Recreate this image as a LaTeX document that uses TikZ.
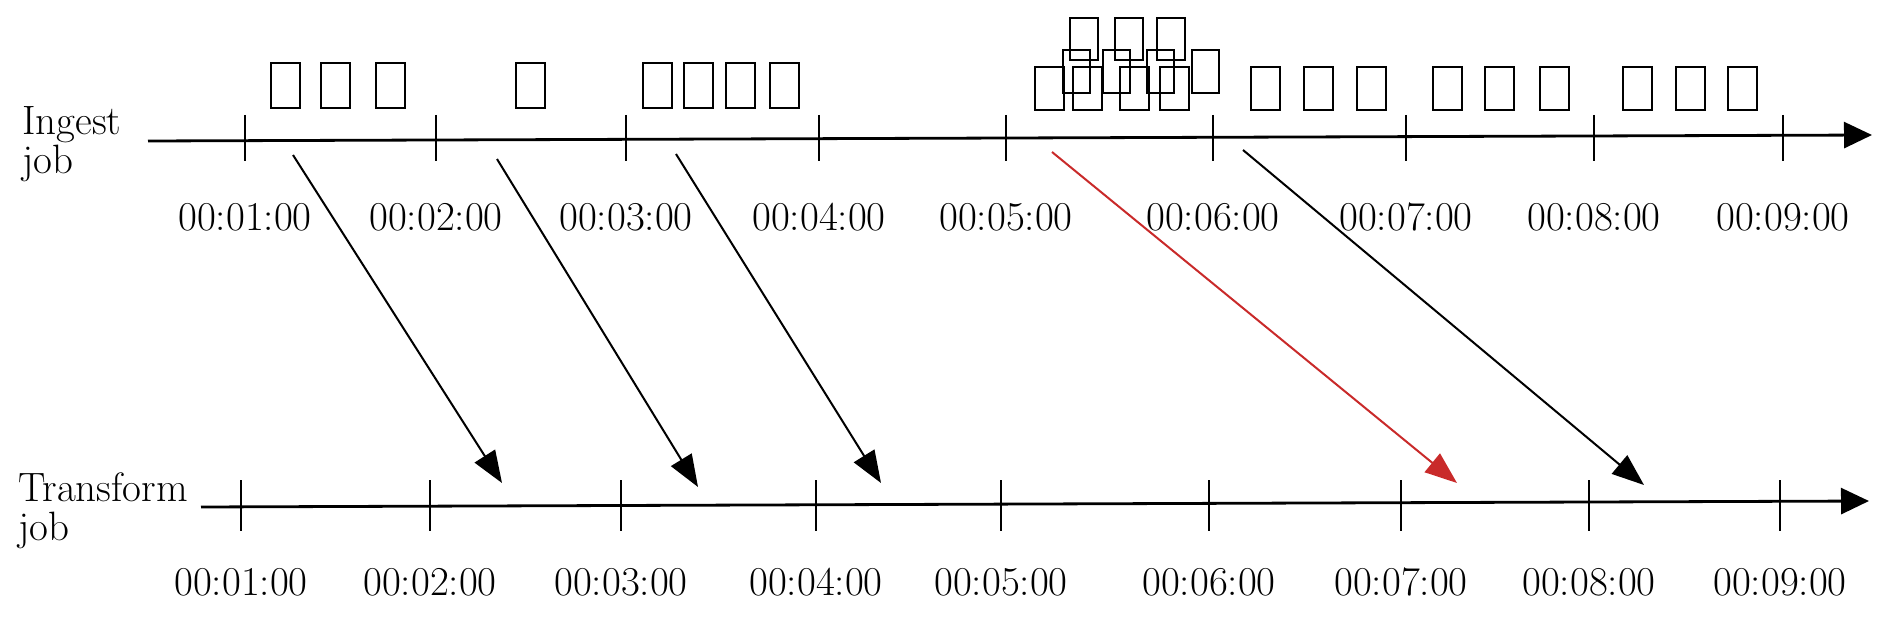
\documentclass[tikz,border=0pt]{standalone}
\usetikzlibrary{arrows.meta,positioning}
\definecolor{sketchred}{HTML}{C92A2A}

\tikzset{
	timeaxis/.style={line width=1.4pt,-{Triangle[length=14pt,width=13pt]}},
	tickmark/.style={line width=0.8pt},
	timelabel/.style={font=\fontsize{20.5}{23}\selectfont},
	joblabel/.style={font=\fontsize{20.5}{19.5}\selectfont, align=left, anchor=west, inner sep=0pt},
	batch/.style={line width=1.3pt},
	handoff/.style={line width=1pt,-{Triangle[length=16pt,width=12pt]}},
}

\begin{document}
\begin{tikzpicture}[x=0.5pt,y=-0.5pt]
		\useasboundingbox (0,0) rectangle (1892,626);
		
		% Ingest job timeline
		\node[joblabel] (ingest) at (22,144) {Ingest\\job};
		\coordinate (ingest start) at (148,141);
		\coordinate (ingest end) at (1872,135);
		\draw[timeaxis] (ingest start) -- (ingest end);
		\foreach \x [count=\i] in {245,436,626,819,1006,1213,1406,1594,1783} {
			\draw[tickmark] (\x,115) -- (\x,161);
			\node[timelabel] (in\i) at (\x,217) {00:0\i:00};
		}
		
		% Incoming batches above the ingest job
		\foreach \x in {271,321,376,516,643,684,726,770}
			\draw[batch] (\x,63) rectangle ++(29,45);
		\foreach \x in {1070,1115,1157}
			\draw[batch] (\x,18) rectangle ++(28,42);
		\foreach \x in {1063,1103,1147,1192}
			\draw[batch] (\x,50) rectangle ++(27,43);
		\foreach \x in {1035,1073,1120,1160,1251,1304,1357,1433,1485,1540,1623,1676,1728}
			\draw[batch] (\x,67) rectangle ++(29,43);
		
		% Transform job timeline
		\node[joblabel] (transform) at (18,511) {Transform\\job};
		\coordinate (transform start) at (201,507);
		\coordinate (transform end) at (1869,501);
		\draw[timeaxis] (transform start) -- (transform end);
		\foreach \x [count=\i] in {241,430,621,816,1001,1209,1401,1589,1780} {
			\draw[tickmark] (\x,480) -- (\x,531);
			\node[timelabel] (tr\i) at (\x,582) {00:0\i:00};
		}
		
		% Hand-offs from ingest to transform
		\coordinate (out1) at (293,155);
		\coordinate (out2) at (497,159);
		\coordinate (out3) at (676,154);
		\coordinate (out4) at (1052,152);
		\coordinate (out5) at (1243,150);
		\coordinate (in1) at (502,483);
		\coordinate (in2) at (698,487);
		\coordinate (in3) at (881,483);
		\coordinate (in4) at (1457,483);
		\coordinate (in5) at (1644,485);
		\draw[handoff] (out1) -- (in1);
		\draw[handoff] (out2) -- (in2);
		\draw[handoff] (out3) -- (in3);
		\draw[handoff, sketchred] (out4) -- (in4);
		\draw[handoff] (out5) -- (in5);
	\end{tikzpicture}
\end{document}
